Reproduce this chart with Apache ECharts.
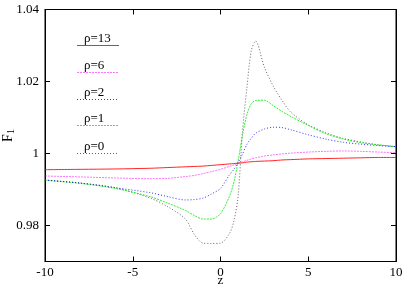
<!DOCTYPE html>
<html>
<head>
<meta charset="utf-8">
<script src="https://cdn.jsdelivr.net/npm/echarts@6/dist/echarts.min.js"></script>
<style>html,body{margin:0;padding:0;background:#fff}#c{width:409px;height:286px}</style>
</head>
<body>
<div id="c"></div>
<script>
var zValues = [-10,-8,-6,-4,-3,-2,-1.5,-1,-0.5,0,0.5,0.75,1,1.25,1.5,1.75,2,2.5,3,3.5,4,5,6,7,8,9,10];
var rho13 = [0.9955,0.9956,0.9957,0.9959,0.9961,0.9963,0.9964,0.9965,0.9967,0.9969,0.9971,0.9972,0.9973,0.9974,0.9976,0.9977,0.9978,0.9979,0.9980,0.9982,0.9983,0.9985,0.9986,0.9987,0.9988,0.9989,0.9989];
var rho6 = [0.99375,0.9935,0.9932,0.9930,0.9931,0.9936,0.9939,0.9944,0.9950,0.9956,0.9964,0.9968,0.9973,0.9977,0.9981,0.9985,0.9988,0.9993,0.9996,0.9999,1.0001,1.0004,1.0006,1.0007,1.0006,1.0004,1.0002];
var rho2 = [0.9926,0.9918,0.9905,0.9891,0.9880,0.9871,0.9872,0.9876,0.9888,0.9903,0.9940,0.9955,0.9975,0.9998,1.0025,1.0042,1.0056,1.0068,1.0073,1.0072,1.0066,1.0052,1.0040,1.0031,1.0026,1.0022,1.0019];
var rho1 = [0.9926,0.9917,0.9903,0.9880,0.9862,0.9842,0.9828,0.9818,0.9818,0.9833,0.9880,0.9918,0.9978,1.0050,1.0107,1.0138,1.0147,1.0148,1.0133,1.0117,1.0103,1.0078,1.0055,1.0040,1.0030,1.0024,1.0019];
var rho0 = [0.9926,0.9918,0.9905,0.9876,0.9852,0.9818,0.9776,0.9751,0.9750,0.9751,0.9777,0.9810,0.9880,1.0060,1.0180,1.0285,1.0312,1.0240,1.0188,1.0148,1.0115,1.0080,1.0058,1.0042,1.0032,1.0024,1.0019];
var legendLabels = ['\u03c1=13','\u03c1=6','\u03c1=2','\u03c1=1','\u03c1=0'];
var xTicks = [-10,-5,0,5,10];
var yTicks = [0.98,1,1.02,1.04];

var seriesData = [rho13, rho6, rho2, rho1, rho0];
var colors = ['#ff0000','#ff00ff','#0000ff','#00ee00','#000000'];
var dashes = ['solid',[2,1],[1,2],[2,1],[1,2]];
var opacities = [0.85,0.55,0.8,0.8,0.6];

function pairs(arr){ return zValues.map(function(z,i){ return [z, arr[i]]; }); }

var FONT = 'Liberation Serif';
var series = seriesData.map(function(arr,i){
  return {
    type:'line', name: legendLabels[i], data: pairs(arr), smooth: 0.3, showSymbol:false,
    lineStyle:{color:colors[i], width:1, type:dashes[i], opacity:opacities[i]},
    z: 10 - i
  };
});

var legendTop = [39,66,93,119,147];
var graphics = [];
legendLabels.forEach(function(lbl,i){
  graphics.push({type:'text', left: 84, top: legendTop[i]-7, style:{text:lbl, fontFamily:FONT, fontSize:13, fill:'#000'}});
  graphics.push({type:'line', shape:{x1:77,y1:legendTop[i]+6.5,x2:119,y2:legendTop[i]+6.5},
    style:{stroke:colors[i], lineWidth:1, lineDash: dashes[i]==='solid'?null:dashes[i], opacity:opacities[i]}});
});

var chart = echarts.init(document.getElementById('c'), null, {renderer:'canvas'});
chart.setOption({
  animation:false,
  backgroundColor:'#fff',
  grid:{left:45, right:13, top:9.5, bottom:24.5, show:true, borderColor:'#000', borderWidth:1, outerBoundsMode:'none'},
  xAxis:[{
    type:'value', min:-10, max:10, interval:5,
    axisLine:{show:true, onZero:false, lineStyle:{color:'#000'}},
    axisTick:{inside:true, length:5, lineStyle:{color:'#000'}},
    axisLabel:{color:'#000', fontFamily:FONT, fontSize:13, margin:5},
    splitLine:{show:false},
    name:'z', nameLocation:'middle', nameGap:13, nameMoveOverlap:false,
    nameTextStyle:{color:'#000', fontFamily:FONT, fontSize:13, verticalAlign:'top'}
  },{
    type:'value', min:-10, max:10, interval:5, position:'top',
    axisLine:{show:true, onZero:false, lineStyle:{color:'#000'}},
    axisTick:{inside:true, length:5, lineStyle:{color:'#000'}},
    axisLabel:{show:false}, splitLine:{show:false}
  }],
  yAxis:[{
    type:'value', min:0.97, max:1.04,
    axisLine:{show:true, onZero:false, lineStyle:{color:'#000'}},
    axisTick:{inside:true, length:5, lineStyle:{color:'#000'}, customValues: yTicks},
    axisLabel:{color:'#000', fontFamily:FONT, fontSize:13, margin:6, customValues: yTicks,
      formatter:function(v){ return String(Math.round(v*100)/100); }},
    splitLine:{show:false},
    name:'{a|F}{b|1}', nameLocation:'middle', nameGap:29, nameRotate:90, nameMoveOverlap:false,
    nameTextStyle:{color:'#000', fontFamily:FONT, fontSize:13,
      rich:{a:{fontFamily:FONT, fontSize:14, color:'#000'}, b:{fontFamily:FONT, fontSize:10, color:'#000', verticalAlign:'bottom', padding:[6,0,0,0]}}}
  },{
    type:'value', min:0.97, max:1.04, position:'right',
    axisLine:{show:true, onZero:false, lineStyle:{color:'#000'}},
    axisTick:{inside:true, length:5, lineStyle:{color:'#000'}, customValues: yTicks},
    axisLabel:{show:false}, splitLine:{show:false}
  }],
  series: series,
  graphic: graphics
});
</script>
</body>
</html>
